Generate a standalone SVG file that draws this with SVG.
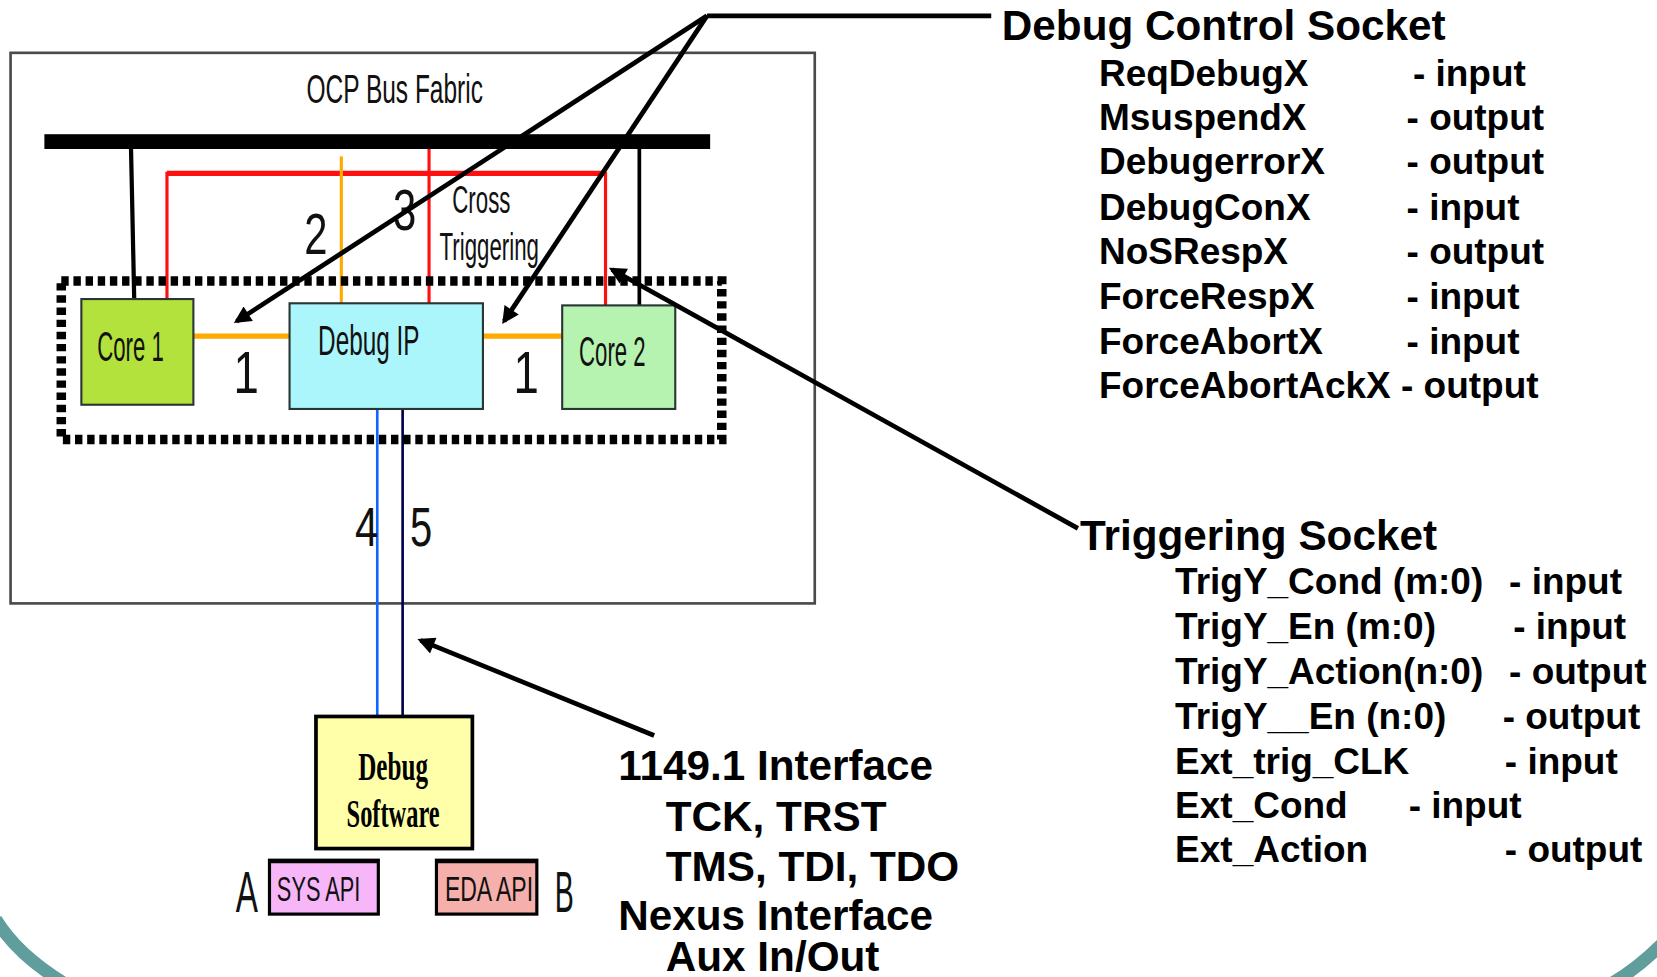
<svg xmlns="http://www.w3.org/2000/svg" width="1657" height="977" viewBox="0 0 1657 977">
<defs>
<style>
.lbl{font-family:"Liberation Sans",Arial,sans-serif;fill:#111}
.b{font-family:"Liberation Sans",Arial,sans-serif;font-weight:bold;fill:#000}
.h{font-size:40px}
.it{font-size:35px}
.ser{font-family:"Liberation Serif","Times New Roman",serif;font-weight:bold;fill:#000}
.ptr{stroke:#000;stroke-width:4.5;fill:none}
.node{stroke:#2a3535;stroke-width:2}
.arc{stroke:#5f9e9c;stroke-width:12;fill:none}
</style>
<marker id="ah" viewBox="0 0 10 10" refX="8" refY="5" markerWidth="4.4" markerHeight="3.6" orient="auto" markerUnits="strokeWidth"><path d="M0,0 L10,5 L0,10 z" fill="#000"/></marker>
</defs>
<rect width="1657" height="977" fill="#fff"/>
<g transform="scale(1.05676)">
<g id="frame-decor">
<path class="arc" d="M-4,870 Q16,903 60,930"/>
<path class="arc" d="M1526,930 Q1550,916 1574,892"/>
</g>
<g id="ocp-bus-fabric">
<rect x="10" y="50" width="761" height="521" fill="#fff" stroke="#4a4a4a" stroke-width="2.5"/>
<text class="lbl" x="290" y="97" font-size="38" textLength="167" lengthAdjust="spacingAndGlyphs">OCP Bus Fabric</text>
<rect x="42" y="127" width="630" height="14" fill="#000"/>
</g>
<g id="connectors">
<line x1="124" y1="141" x2="127" y2="283" stroke="#000" stroke-width="4"/>
<line x1="605" y1="141" x2="605" y2="289" stroke="#000" stroke-width="3.5"/>
<polyline points="158,283 158,164 573,164 573,289" fill="none" stroke="#ff1010" stroke-width="3"/>
<line x1="158" y1="164" x2="573" y2="164" stroke="#ff1010" stroke-width="5"/>
<line x1="406" y1="141" x2="406" y2="287" stroke="#ff1010" stroke-width="3"/>
<line x1="323" y1="148" x2="323" y2="287" stroke="#ffaa00" stroke-width="3"/>
<line x1="183" y1="318" x2="275" y2="318" stroke="#ffaa00" stroke-width="5"/>
<line x1="457" y1="318" x2="532" y2="318" stroke="#ffaa00" stroke-width="5"/>
<line x1="357" y1="358" x2="357" y2="678" stroke="#1064ff" stroke-width="2.5"/>
<line x1="381" y1="358" x2="381" y2="678" stroke="#00004a" stroke-width="2.5"/>
</g>
<g id="debug-region">
<rect x="58" y="266" width="625" height="150" fill="none" stroke="#000" stroke-width="9" stroke-dasharray="7 4.5"/>
</g>
<g id="core1">
<rect class="node" x="77" y="283" width="106" height="100" fill="#b4e23c"/>
<text class="lbl" x="92" y="342" font-size="40" textLength="63" lengthAdjust="spacingAndGlyphs">Core 1</text>
</g>
<g id="debug-ip">
<rect class="node" x="274" y="287" width="183" height="100" fill="#aaf6fa"/>
<text class="lbl" x="301" y="336" font-size="40" textLength="96" lengthAdjust="spacingAndGlyphs">Debug IP</text>
</g>
<g id="core2">
<rect class="node" x="532" y="289" width="107" height="98" fill="#b6f3b0"/>
<text class="lbl" x="548" y="346" font-size="40" textLength="63" lengthAdjust="spacingAndGlyphs">Core 2</text>
</g>
<g id="wire-labels">
<text class="lbl" x="221" y="372" font-size="56" textLength="24" lengthAdjust="spacingAndGlyphs">1</text>
<text class="lbl" x="486" y="372" font-size="56" textLength="24" lengthAdjust="spacingAndGlyphs">1</text>
<text class="lbl" x="288" y="240" font-size="54" textLength="22" lengthAdjust="spacingAndGlyphs">2</text>
<text class="lbl" x="372" y="218" font-size="54" textLength="22" lengthAdjust="spacingAndGlyphs">3</text>
<text class="lbl" x="428" y="202" font-size="37" textLength="55" lengthAdjust="spacingAndGlyphs">Cross</text>
<text class="lbl" x="416" y="246" font-size="37" textLength="94" lengthAdjust="spacingAndGlyphs">Triggering</text>
<text class="lbl" x="336" y="517" font-size="52" textLength="22" lengthAdjust="spacingAndGlyphs">4</text>
<text class="lbl" x="388" y="517" font-size="52" textLength="21" lengthAdjust="spacingAndGlyphs">5</text>
</g>
<g id="debug-software">
<rect x="299" y="678" width="148" height="125" fill="#ffffaa" stroke="#000" stroke-width="3.5"/>
<text class="ser" x="339" y="738" font-size="38" textLength="66" lengthAdjust="spacingAndGlyphs">Debug</text>
<text class="ser" x="328" y="783" font-size="38" textLength="88" lengthAdjust="spacingAndGlyphs">Software</text>
</g>
<g id="sys-api">
<rect x="255" y="814" width="103" height="51" fill="#f6b6f8" stroke="#000" stroke-width="3"/>
<line x1="255" y1="815" x2="358" y2="815" stroke="#000" stroke-width="4"/>
<text class="lbl" x="262" y="853" font-size="34" textLength="79" lengthAdjust="spacingAndGlyphs">SYS API</text>
<text class="lbl" x="223" y="863" font-size="54" textLength="21" lengthAdjust="spacingAndGlyphs">A</text>
</g>
<g id="eda-api">
<rect x="413" y="814" width="95" height="51" fill="#f6b0ac" stroke="#000" stroke-width="3"/>
<line x1="413" y1="815" x2="508" y2="815" stroke="#000" stroke-width="4"/>
<text class="lbl" transform="translate(421,853) scale(0.64,1)" x="0" y="0" font-size="34">EDA API</text>
<text class="lbl" transform="translate(525,863) scale(0.5,1)" x="0" y="0" font-size="54">B</text>
</g>
<g id="pointers">
<polyline class="ptr" points="938,15 669,15"/>
<line class="ptr" x1="669" y1="15" x2="224" y2="304" marker-end="url(#ah)"/>
<line class="ptr" x1="669" y1="15" x2="477" y2="304" marker-end="url(#ah)"/>
<line class="ptr" x1="1020" y1="500" x2="579" y2="255" marker-end="url(#ah)"/>
<line class="ptr" x1="619" y1="696" x2="398" y2="606" marker-end="url(#ah)"/>
</g>
<g id="debug-control-socket">
<text class="b h" x="948" y="38">Debug Control Socket</text>
<g class="b it">
<text x="1040" y="81">ReqDebugX</text><text x="1337" y="81">- input</text>
<text x="1040" y="123">MsuspendX</text><text x="1331" y="123">- output</text>
<text x="1040" y="165">DebugerrorX</text><text x="1331" y="165">- output</text>
<text x="1040" y="208">DebugConX</text><text x="1331" y="208">- input</text>
<text x="1040" y="250">NoSRespX</text><text x="1331" y="250">- output</text>
<text x="1040" y="292">ForceRespX</text><text x="1331" y="292">- input</text>
<text x="1040" y="335">ForceAbortX</text><text x="1331" y="335">- input</text>
<text x="1040" y="377">ForceAbortAckX - output</text>
</g>
</g>
<g id="triggering-socket">
<text class="b h" x="1022" y="520">Triggering Socket</text>
<g class="b it">
<text x="1112" y="562">TrigY_Cond (m:0)</text><text x="1428" y="562">- input</text>
<text x="1112" y="605">TrigY_En (m:0)</text><text x="1432" y="605">- input</text>
<text x="1112" y="647">TrigY_Action(n:0)</text><text x="1428" y="647">- output</text>
<text x="1112" y="690">TrigY__En (n:0)</text><text x="1422" y="690">- output</text>
<text x="1112" y="732">Ext_trig_CLK</text><text x="1424" y="732">- input</text>
<text x="1112" y="774">Ext_Cond</text><text x="1333" y="774">- input</text>
<text x="1112" y="816">Ext_Action</text><text x="1424" y="816">- output</text>
</g>
</g>
<g id="interface-notes" class="b h">
<text x="585" y="738">1149.1 Interface</text>
<text x="630" y="786">TCK, TRST</text>
<text x="630" y="834">TMS, TDI, TDO</text>
<text x="585" y="880">Nexus Interface</text>
<text x="630" y="919">Aux In/Out</text>
</g>
</g>
</svg>
